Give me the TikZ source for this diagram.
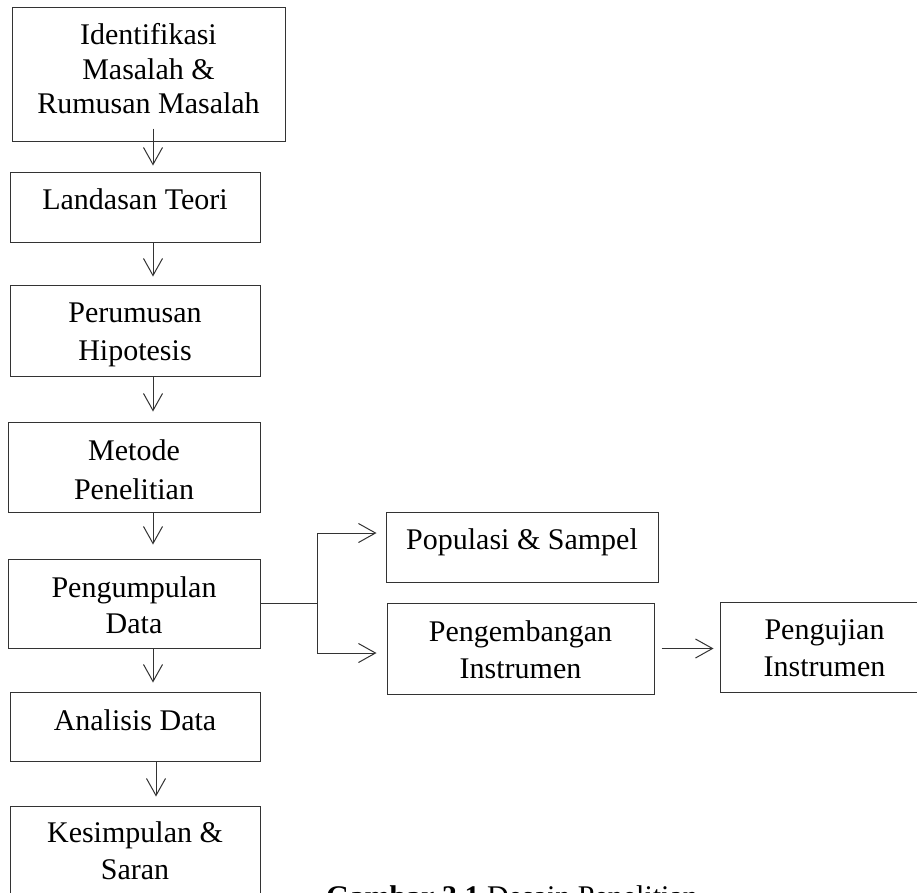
\documentclass[tikz,border=0pt]{standalone}
\usepackage{fontspec}
\setmainfont{Liberation Serif}
\usetikzlibrary{arrows.meta}
\begin{document}
\begin{tikzpicture}[x=1pt,y=-1pt,
  box/.style={draw=black!80, line width=1pt, inner sep=0pt},
  txt/.style={align=center, inner sep=0pt, font=\fontsize{30}{37}\selectfont},
  arr/.style={draw=black!80, line width=1pt, -{Straight Barb[length=17pt,width=19pt]}},
  ln/.style={draw=black!80, line width=1pt}]
\path[use as bounding box] (0,0) rectangle (917,892);
\clip (0,0) rectangle (917,892);
\fill[white] (0,0) rectangle (917,892);

% left column boxes
\node[box, minimum width=273pt, minimum height=134pt] (b1) at (148.5,74) {};
\node[txt, font=\fontsize{30}{34.5}\selectfont] (t1) at (148.5,68.6) {Identifikasi\\Masalah \&\\Rumusan Masalah};
\node[box, minimum width=250pt, minimum height=70pt] (b2) at (135,207) {};
\node[txt] (t2) at (135,199) {Landasan Teori};
\node[box, minimum width=250pt, minimum height=91pt] (b3) at (135,330.5) {};
\node[txt, font=\fontsize{30}{37.7}\selectfont] (t3) at (135,335.2) {Perumusan\\Hipotesis};
\node[box, minimum width=252pt, minimum height=90pt] (b4) at (134,467) {};
\node[txt, font=\fontsize{30}{39}\selectfont] (t4) at (134,469.3) {Metode\\Penelitian};
\node[box, minimum width=252pt, minimum height=89pt] (b5) at (134,603.5) {};
\node[txt, font=\fontsize{30}{36}\selectfont] (t5) at (134,604.8) {Pengumpulan\\Data};
\node[box, minimum width=250pt, minimum height=69pt] (b6) at (135,726.5) {};
\node[txt] (t6) at (135,719.8) {Analisis Data};
\node[box, minimum width=250pt, minimum height=90pt] (b7) at (135,851) {};
\node[txt] (t7) at (135,851) {Kesimpulan \&\\Saran};

% right boxes
\node[box, minimum width=272pt, minimum height=70pt] (p) at (522,547) {};
\node[txt] (tp) at (522,542) {Populasi \& Sampel};
\node[box, minimum width=267pt, minimum height=91pt] (d) at (520.5,648.5) {};
\node[txt, font=\fontsize{30}{36.3}\selectfont] (td) at (520.5,649.6) {Pengembangan\\Instrumen};
\node[box, minimum width=209pt, minimum height=90pt] (u) at (824.5,647) {};
\node[txt] (tu) at (824.5,648) {Pengujian\\Instrumen};

% caption
\node[anchor=base west, inner sep=0pt, font=\fontsize{30}{36}\selectfont] (cap) at (326,906) {\textbf{Gambar 3.1} Desain Penelitian};

% vertical arrows
\coordinate (ax) at (153,0);
\coordinate (ay) at (156,0);
\draw[arr, shorten <=-13pt, shorten >=6pt] (b1.south -| ax) -- (b2.north -| ax);
\draw[arr, shorten >=8pt] (b2.south -| ax) -- (b3.north -| ax);
\draw[arr, shorten >=10pt] (b3.south -| ax) -- (b4.north -| ax);
\draw[arr, shorten >=14pt] (b4.south -| ax) -- (b5.north -| ax);
\draw[arr, shorten >=9pt] (b5.south -| ax) -- (b6.north -| ax);
\draw[arr, shorten >=9pt] (b6.south -| ay) -- (b7.north -| ay);

% branch
\coordinate (jt) at (317,533);
\coordinate (jb) at (317,653);
\draw[ln] (b5.east) -- (b5.east -| jt);
\draw[ln] (jt) -- (jb);
\draw[arr, shorten >=9pt] (jt) -- (jt -| p.west);
\draw[arr, shorten >=10pt] (jb) -- (jb -| d.west);
\draw[arr, shorten <=7pt, shorten >=6pt] (d.east) -- (d.east -| u.west);
\end{tikzpicture}
\end{document}
